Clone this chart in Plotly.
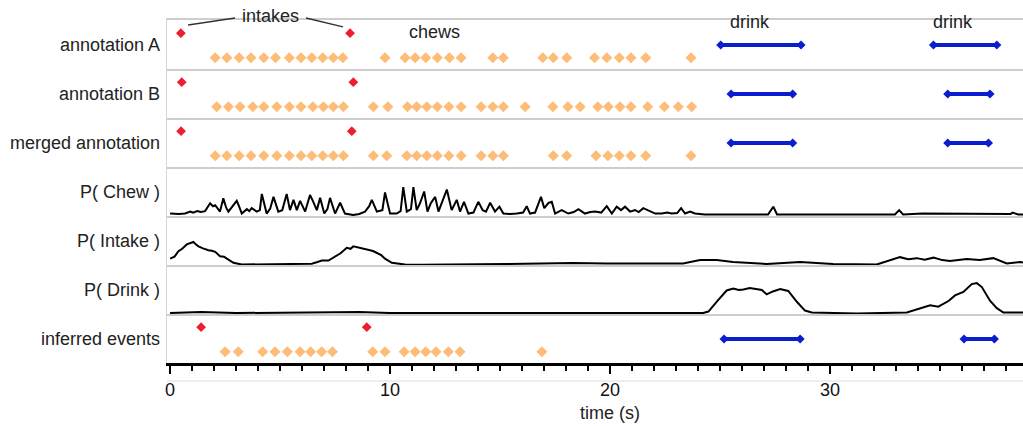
import plotly.graph_objects as go
from plotly.subplots import make_subplots

# ---------------- data ----------------
row_labels = ["annotation A", "annotation B", "merged annotation",
              "P( Chew )", "P( Intake )", "P( Drink )", "inferred events"]

intake_A = [0.49, 8.18]
chew_A = [2.05, 2.58, 3.14, 3.68, 4.26, 4.79, 5.42, 5.95, 6.44, 6.94, 7.42, 7.85,
          9.77, 10.68, 11.14, 11.62, 12.15, 12.70, 13.23, 14.67, 15.15,
          16.94, 17.42, 18.03, 19.29, 19.85, 20.42, 20.95, 21.62, 23.68]
drink_A = [[25.03, 28.68], [34.70, 37.58]]

intake_B = [0.53, 8.33]
chew_B = [2.12, 2.65, 3.18, 3.76, 4.26, 4.85, 5.42, 5.95, 6.49, 6.97, 7.42, 7.88,
          9.24, 9.90, 10.79, 11.21, 11.67, 12.15, 12.67, 13.23, 14.14, 14.67, 15.15,
          16.14, 17.40, 18.08, 18.64, 19.44, 19.92, 20.45, 20.95, 21.71, 22.47, 23.10, 23.71]
drink_B = [[25.50, 28.30], [35.35, 37.27]]

intake_M = [0.50, 8.26]
chew_M = [2.05, 2.58, 3.14, 3.68, 4.26, 4.85, 5.42, 5.95, 6.44, 6.94, 7.42, 7.88,
          9.24, 9.85, 10.76, 11.21, 11.67, 12.15, 12.67, 13.23, 14.14, 14.67, 15.15,
          17.42, 18.03, 19.36, 19.90, 20.42, 20.95, 21.62, 23.68]
drink_M = [[25.50, 28.30], [35.35, 37.20]]

intake_I = [1.41, 8.94]
chew_I = [2.50, 3.10, 4.21, 4.77, 5.33, 5.91, 6.39, 6.89, 7.38,
          9.21, 9.77, 10.64, 11.14, 11.62, 12.09, 12.65, 13.18, 16.90]
drink_I = [[25.18, 28.64], [36.09, 37.47]]

p_chew_t = [0.00, 0.40, 0.68, 0.91, 1.05, 1.23, 1.40, 1.59, 1.82, 1.95, 2.05, 2.27, 2.42, 2.55,
            2.65, 2.88, 3.03, 3.15, 3.26, 3.49, 3.60, 3.71, 3.94, 4.08, 4.17, 4.39, 4.55, 4.70,
            4.92, 5.10, 5.30, 5.45, 5.61, 5.76, 5.91, 6.14, 6.36, 6.51, 6.67, 6.82, 7.01, 7.15,
            7.27, 7.50, 7.73, 7.95, 8.32, 8.60, 8.86, 9.05, 9.17, 9.40, 9.65, 9.77, 10.00, 10.30,
            10.48, 10.60, 10.76, 10.95, 11.06, 11.21, 11.36, 11.55, 11.70, 11.85, 12.05, 12.20,
            12.39, 12.58, 12.80, 13.03, 13.18, 13.36, 13.56, 13.79, 14.01, 14.21, 14.36, 14.55,
            14.77, 14.97, 15.15, 15.45, 15.76, 16.05, 16.21, 16.36, 16.59, 16.86, 17.01, 17.20,
            17.35, 17.50, 17.80, 18.10, 18.35, 18.56, 18.86, 19.10, 19.32, 19.60, 19.85, 20.08,
            20.30, 20.50, 20.68, 20.91, 21.14, 21.30, 21.51, 21.82, 22.05, 22.35, 22.60, 22.80,
            23.05, 23.23, 23.41, 23.64, 23.86, 24.30, 25.90, 27.18, 27.42, 27.59, 28.20, 30.00,
            31.30, 32.95, 33.14, 33.32, 34.20, 35.90, 36.80, 37.30, 38.20, 38.30, 38.55, 38.80]
p_chew_v = [0.05, 0.04, 0.05, 0.09, 0.07, 0.10, 0.08, 0.10, 0.26, 0.20, 0.22, 0.09, 0.36, 0.17,
            0.09, 0.22, 0.31, 0.18, 0.05, 0.14, 0.10, 0.16, 0.09, 0.12, 0.45, 0.05, 0.15, 0.39,
            0.09, 0.12, 0.45, 0.12, 0.33, 0.12, 0.31, 0.09, 0.43, 0.29, 0.12, 0.37, 0.05, 0.14,
            0.37, 0.05, 0.27, 0.05, 0.02, 0.04, 0.09, 0.20, 0.33, 0.09, 0.12, 0.48, 0.05, 0.05,
            0.10, 0.59, 0.09, 0.14, 0.59, 0.12, 0.26, 0.50, 0.09, 0.26, 0.39, 0.09,
            0.33, 0.54, 0.12, 0.33, 0.09, 0.29, 0.05, 0.07, 0.29, 0.12, 0.09, 0.27,
            0.09, 0.19, 0.05, 0.04, 0.05, 0.07, 0.20, 0.05, 0.07, 0.39, 0.16, 0.27,
            0.29, 0.05, 0.12, 0.05, 0.08, 0.14, 0.05, 0.08, 0.09, 0.07, 0.20, 0.05,
            0.19, 0.12, 0.19, 0.09, 0.12, 0.08, 0.16, 0.09, 0.05, 0.05, 0.07, 0.05,
            0.06, 0.16, 0.05, 0.09, 0.05, 0.03, 0.03, 0.03, 0.19, 0.03, 0.03, 0.03,
            0.04, 0.03, 0.12, 0.03, 0.05, 0.04, 0.05, 0.04, 0.04, 0.07, 0.03, 0.03]

p_intake_t = [0.00, 0.20, 0.38, 0.55, 0.76, 0.90, 1.06, 1.18, 1.29, 1.50, 1.74, 1.90, 2.05, 2.27,
              2.45, 2.58, 2.75, 2.88, 3.26, 3.86, 5.83, 6.44, 6.70, 6.90, 7.20, 7.50, 7.75,
              8.03, 8.20, 8.33, 8.55, 8.71, 8.90, 9.09, 9.25, 9.40, 9.60, 9.77, 10.08, 10.68,
              11.44, 15.30, 17.41, 18.32, 19.85, 23.32, 24.09, 24.85, 25.59, 27.12, 28.64, 30.14,
              32.12, 33.18, 33.55, 33.94, 34.30, 34.70, 35.10, 35.45, 36.21, 36.80, 37.42, 38.03,
              38.64, 38.80]
p_intake_v = [0.13, 0.17, 0.28, 0.33, 0.42, 0.44, 0.47, 0.42, 0.38, 0.34, 0.30, 0.29, 0.27, 0.18,
              0.17, 0.13, 0.08, 0.045, 0.01, 0.01, 0.02, 0.025, 0.06, 0.09, 0.09, 0.18, 0.24,
              0.35, 0.33, 0.38, 0.36, 0.34, 0.33, 0.30, 0.28, 0.25, 0.20, 0.13, 0.045, 0.01,
              0.005, 0.02, 0.04, 0.04, 0.03, 0.03, 0.10, 0.10, 0.06, 0.02, 0.06, 0.02,
              0.01, 0.16, 0.12, 0.14, 0.11, 0.15, 0.10, 0.08, 0.12, 0.10, 0.14, 0.03,
              0.06, 0.05]

p_drink_t = [0.00, 1.40, 3.00, 8.60, 10.00, 24.23, 24.47, 24.70, 24.92, 25.30, 25.60, 25.85,
             26.06, 26.35, 26.67, 26.90, 27.12, 27.40, 27.73, 28.10, 28.49, 28.86, 29.17, 31.21,
             33.49, 34.09, 34.55, 34.92, 35.15, 35.40, 35.68, 36.06, 36.44, 36.67, 36.90, 37.27,
             37.58, 37.88, 38.80]
p_drink_v = [0.02, 0.04, 0.02, 0.04, 0.02, 0.02, 0.05, 0.18, 0.29, 0.48, 0.52, 0.49,
             0.50, 0.53, 0.50, 0.49, 0.40, 0.46, 0.51, 0.47, 0.25, 0.07, 0.03, 0.01,
             0.03, 0.12, 0.18, 0.15, 0.21, 0.27, 0.38, 0.45, 0.61, 0.63, 0.55, 0.27,
             0.12, 0.03, 0.03]

x_range = [-0.14, 38.77]

# ---------------- styles ----------------
RED = "#ee1d2f"
ORANGE = "#fdbd78"
BLUE = "#0a1ecf"
FONT = "Liberation Sans, Arial, sans-serif"
Y_INTAKE, Y_CHEW, Y_DRINK = 0.73, 0.23, 0.49
FS = 18

fig = make_subplots(rows=7, cols=1, shared_xaxes=True, vertical_spacing=0)


def add_events(row, intakes, chews, drinks):
    fig.add_trace(go.Scatter(x=chews, y=[Y_CHEW] * len(chews), mode="markers",
                             marker=dict(symbol="diamond", size=8.5, color=ORANGE),
                             showlegend=False, hoverinfo="x"), row=row, col=1)
    fig.add_trace(go.Scatter(x=intakes, y=[Y_INTAKE] * len(intakes), mode="markers",
                             marker=dict(symbol="diamond", size=7.5, color=RED),
                             showlegend=False, hoverinfo="x"), row=row, col=1)
    for seg in drinks:
        fig.add_trace(go.Scatter(x=seg, y=[Y_DRINK, Y_DRINK], mode="lines+markers",
                                 line=dict(color=BLUE, width=4),
                                 marker=dict(symbol="diamond", size=7, color=BLUE),
                                 showlegend=False, hoverinfo="x"), row=row, col=1)


def add_prob(row, t, v):
    fig.add_trace(go.Scatter(x=t, y=v, mode="lines", line=dict(color="black", width=2),
                             showlegend=False), row=row, col=1)


add_events(1, intake_A, chew_A, drink_A)
add_events(2, intake_B, chew_B, drink_B)
add_events(3, intake_M, chew_M, drink_M)
add_prob(4, p_chew_t, p_chew_v)
add_prob(5, p_intake_t, p_intake_v)
add_prob(6, p_drink_t, p_drink_v)
add_events(7, intake_I, chew_I, drink_I)

for r in range(1, 8):
    fig.update_yaxes(range=[0, 1], showticklabels=False, showgrid=False, zeroline=False,
                     showline=True, linecolor="#d6d6d6", linewidth=1, ticks="",
                     fixedrange=True, row=r, col=1)
    if r < 7:
        fig.update_xaxes(range=x_range, showline=True, linecolor="#cdcdcd", linewidth=2,
                         showticklabels=False, ticks="", showgrid=False, zeroline=False,
                         layer="below traces", mirror=(r == 1), row=r, col=1)

fig.update_xaxes(range=x_range, showline=True, linecolor="black", linewidth=3,
                 showgrid=False, zeroline=False, tickmode="linear", tick0=0, dtick=10,
                 ticks="outside", ticklen=8, tickwidth=2, tickcolor="black",
                 minor=dict(dtick=1, tick0=0, ticks="outside", ticklen=5, tickwidth=2,
                            tickcolor="black", showgrid=False),
                 tickfont=dict(family=FONT, size=FS, color="#111"),
                 row=7, col=1)

annotations = []
for i, lab in enumerate(row_labels):
    annotations.append(dict(text=lab, xref="paper", x=0, xanchor="right", xshift=-5,
                            yref=f"y{i + 1} domain" if i > 0 else "y domain", y=0.5,
                            yanchor="middle", showarrow=False,
                            font=dict(family=FONT, size=FS, color="#222")))

txt = dict(showarrow=False, xanchor="center", yanchor="middle",
           font=dict(family=FONT, size=FS, color="#222"))
annotations += [
    dict(text="intakes", x=4.55, xref="x", y=1.08, yref="y domain", **txt),
    dict(text="chews", x=12.02, xref="x", y=0.755, yref="y domain", **txt),
    dict(text="drink", x=26.36, xref="x", y=0.965, yref="y domain", **txt),
    dict(text="drink", x=35.58, xref="x", y=0.965, yref="y domain", **txt),
    dict(text="time (s)", x=20.0, xref="x", y=-0.145, yref="paper", **txt),
]

shapes = [
    dict(type="line", xref="x", yref="y domain", x0=intake_A[0] + 0.33, y0=0.9,
         x1=2.95, y1=1.04, line=dict(color="#333", width=1.5)),
    dict(type="line", xref="x", yref="y domain", x0=6.18, y0=1.04,
         x1=intake_A[1] - 0.32, y1=0.86, line=dict(color="#333", width=1.5)),
    dict(type="line", xref="paper", yref="paper", x0=0, x1=1, y0=-0.0525, y1=-0.0525,
         line=dict(color="#dddddd", width=1), layer="below"),
]

fig.update_layout(width=1023, height=426, margin=dict(l=167, r=0, t=20, b=63),
                  paper_bgcolor="white", plot_bgcolor="white",
                  annotations=annotations, shapes=shapes,
                  font=dict(family=FONT, size=FS, color="#222"))

fig.write_html("out.html")
